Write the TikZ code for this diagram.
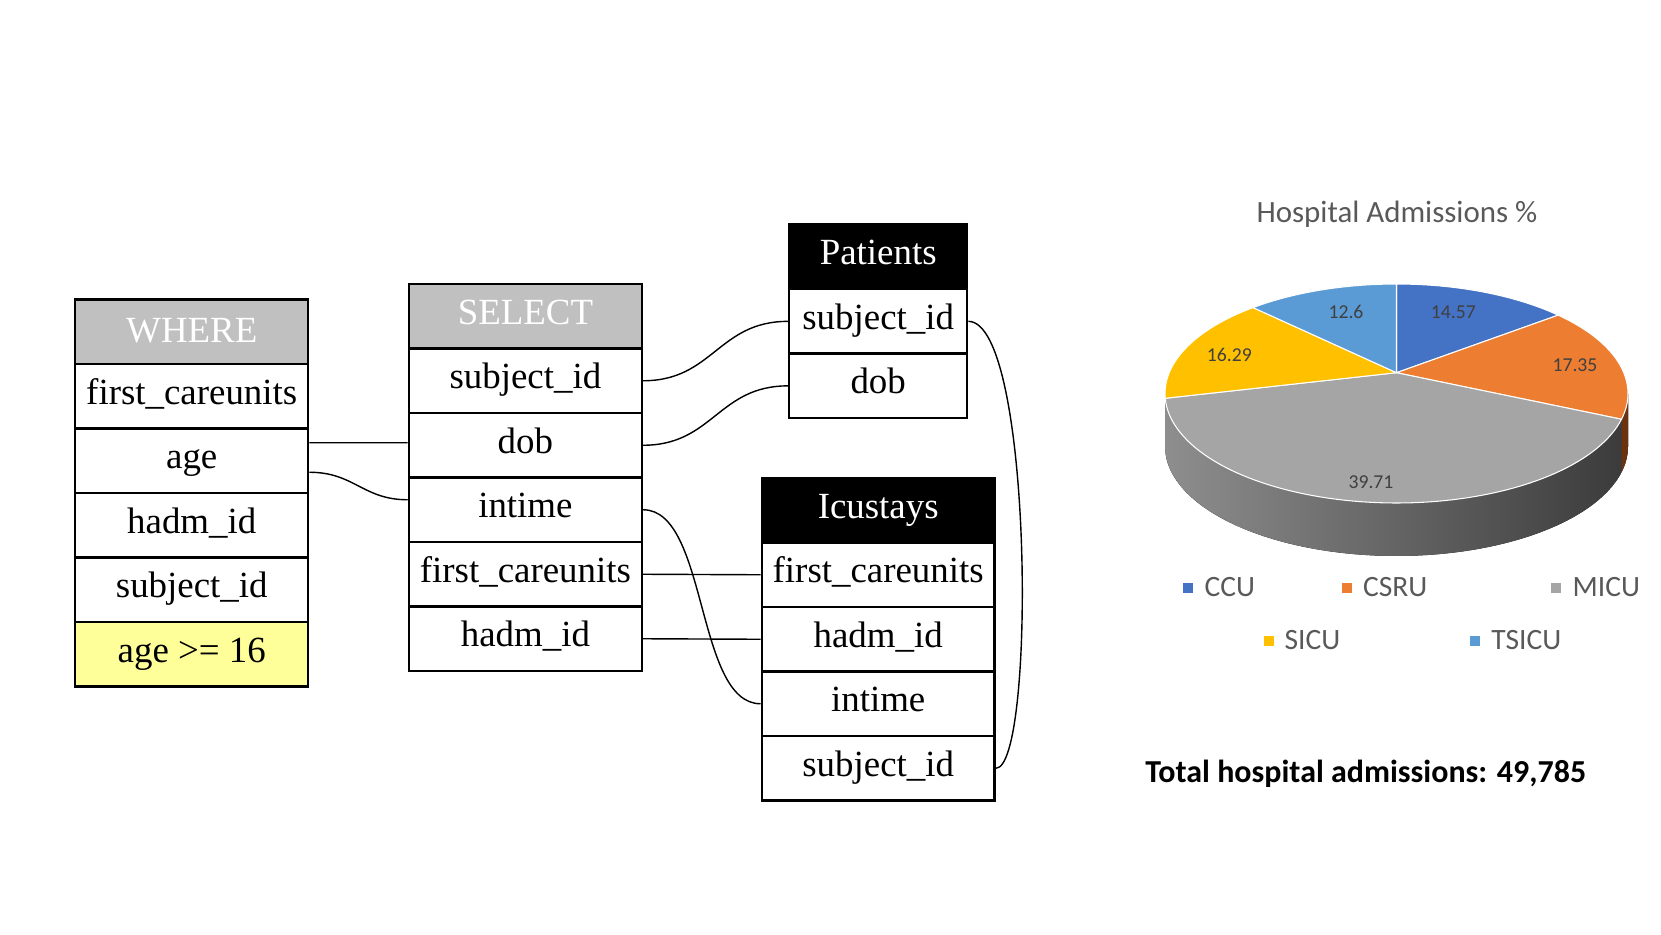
\documentclass[tikz,border=0pt]{standalone}
\usepackage{fontspec}
\setmainfont{Liberation Serif}
\newfontfamily\carl{Carlito}
\usetikzlibrary{calc,backgrounds}
\definecolor{hdrgray}{HTML}{C0C0C0}
\definecolor{condyellow}{HTML}{FFFF99}
\definecolor{ccu}{HTML}{4472C4}
\definecolor{csru}{HTML}{ED7D31}
\definecolor{micu}{HTML}{A5A5A5}
\definecolor{sicu}{HTML}{FFC000}
\definecolor{tsicu}{HTML}{5B9BD5}
\definecolor{sideL}{HTML}{8E8E8E}
\definecolor{sideR}{HTML}{3A3A3A}
\definecolor{csruside}{HTML}{6B3210}
\definecolor{titlegray}{HTML}{595959}
\definecolor{labgray}{HTML}{404040}
\begin{document}
\begin{tikzpicture}[x=0.02cm, y=-0.02cm,
  cell/.style={draw=black, line width=1.35pt, minimum height=1.29cm, inner sep=0pt,
    text height=14pt, text depth=4.8pt,
    font=\fontsize{21}{24}\selectfont},
  wide/.style={minimum width=4.66cm},
  narrow/.style={minimum width=3.56cm},
  ghead/.style={cell, text=white},
  bhead/.style={cell, text=white},
  conn/.style={line width=0.8pt, black},
  pielab/.style={font=\carl\fontsize{11.2}{13}\selectfont, text=labgray, inner sep=0pt},
  legsq/.style={minimum size=0.2cm, inner sep=0pt},
  legtxt/.style={font=\carl\fontsize{16.8}{19}\selectfont, text=titlegray, anchor=base west, inner sep=0pt}
]
\useasboundingbox (0,0) rectangle (1661,934);

% WHERE table
\node[ghead, wide, text depth=1.5pt] (wh) at (191.75,331.75) {WHERE};
\node[cell, wide] (w1) at (191.75,396.25) {first\_careunits};
\node[cell, wide] (w2) at (191.75,460.75) {age};
\node[cell, wide] (w3) at (191.75,525.25) {hadm\_id};
\node[cell, wide] (w4) at (191.75,589.75) {subject\_id};
\node[cell, wide] (w5) at (191.75,654.25) {age >= 16};

% SELECT table
\node[ghead, wide] (sh) at (525.4,316.25) {SELECT};
\node[cell, wide] (s1) at (525.4,380.75) {subject\_id};
\node[cell, wide] (s2) at (525.4,445.25) {dob};
\node[cell, wide] (s3) at (525.4,509.75) {intime};
\node[cell, wide] (s4) at (525.4,574.25) {first\_careunits};
\node[cell, wide] (s5) at (525.4,638.75) {hadm\_id};

% Patients table
\node[bhead, narrow] (ph) at (878.2,256.85) {Patients};
\node[cell, narrow] (p1) at (878.2,321.35) {subject\_id};
\node[cell, narrow] (p2) at (878.2,385.85) {dob};

% Icustays table
\node[bhead, wide] (ih) at (878.2,510.25) {Icustays};
\node[cell, wide] (i1) at (878.2,574.75) {first\_careunits};
\node[cell, wide] (i2) at (878.2,639.25) {hadm\_id};
\node[cell, wide] (i3) at (878.2,703.75) {intime};
\node[cell, wide] (i4) at (878.2,768.25) {subject\_id};

\begin{pgfonlayer}{background}
  \fill[hdrgray] (wh.south west) rectangle (wh.north east);
  \fill[hdrgray] (sh.south west) rectangle (sh.north east);
  \fill[black] (ph.south west) rectangle (ph.north east);
  \fill[black] (ih.south west) rectangle (ih.north east);
  \fill[condyellow] (w5.south west) rectangle (w5.north east);
\end{pgfonlayer}

% connectors
\draw[conn] ([yshift=0.36cm]w2.east) -- ([yshift=0.05cm]s2.west);
\draw[conn] ([yshift=-0.23cm]w2.east) .. controls +(45,0) and +(-45,0) .. ([yshift=0.2cm]s3.west);
\draw[conn] (s1.east) .. controls +(70,0) and +(-70,0) .. (p1.west);
\draw[conn] (s2.east) .. controls +(70,0) and +(-70,0) .. (p2.west);
\draw[conn] (s3.east) .. controls +(65,0) and +(-65,0) .. (i3.west);
\draw[conn] (s4.east) -- (i1.west);
\draw[conn] (s5.east) -- (i2.west);
\draw[conn] (p1.east) .. controls +(65,0) and +(40,0) .. (i4.east);

% pie chart
\node[font=\carl\fontsize{17.6}{20}\selectfont, text=titlegray, anchor=base, inner sep=0pt] (title) at (1397,222.7) {Hospital Admissions \%};

\begin{scope}[shift={(1396.5,393.5)}, yscale=-1]
  \coordinate (apex) at (0,20.8);
  \fill[left color=sideL, right color=sideR]
    plot[domain=180:360, samples=60, variable=\t] ({231.5*cos(\t)},{109.5*sin(\t)})
    -- plot[domain=360:180, samples=60, variable=\t] ({231.5*cos(\t)},{109.5*sin(\t)-53}) -- cycle;
  \fill[csruside]
    plot[domain=-13.6:0, samples=10, variable=\t] ({231.5*cos(\t)},{109.5*sin(\t)})
    -- plot[domain=0:-13.6, samples=10, variable=\t] ({231.5*cos(\t)},{109.5*sin(\t)-53}) -- cycle;
  \filldraw[fill=ccu, draw=white, line width=0.6pt] (apex) -- plot[domain=90:45.7, samples=30, variable=\t] ({231.5*cos(\t)},{109.5*sin(\t)}) -- cycle;
  \filldraw[fill=csru, draw=white, line width=0.6pt] (apex) -- plot[domain=45.7:-13.6, samples=30, variable=\t] ({231.5*cos(\t)},{109.5*sin(\t)}) -- cycle;
  \filldraw[fill=micu, draw=white, line width=0.6pt] (apex) -- plot[domain=-13.6:-177.5, samples=80, variable=\t] ({231.5*cos(\t)},{109.5*sin(\t)}) -- cycle;
  \filldraw[fill=sicu, draw=white, line width=0.6pt] (apex) -- plot[domain=182.5:128.3, samples=30, variable=\t] ({231.5*cos(\t)},{109.5*sin(\t)}) -- cycle;
  \filldraw[fill=tsicu, draw=white, line width=0.6pt] (apex) -- plot[domain=128.3:90, samples=30, variable=\t] ({231.5*cos(\t)},{109.5*sin(\t)}) -- cycle;
\end{scope}

\node[pielab] (l1) at (1453.3,312.3) {14.57};
\node[pielab] (l2) at (1575,365) {17.35};
\node[pielab] (l3) at (1371,481.7) {39.71};
\node[pielab] (l4) at (1229.3,355) {16.29};
\node[pielab] (l5) at (1346,311.7) {12.6};

% legend
\node[legsq, fill=ccu] (q1) at (1188.3,587.7) {};
\node[legtxt] (t1) at (1204.3,596.7) {CCU};
\node[legsq, fill=csru] (q2) at (1346.7,587.7) {};
\node[legtxt] (t2) at (1362.7,596.7) {CSRU};
\node[legsq, fill=micu] (q3) at (1555.7,587.7) {};
\node[legtxt] (t3) at (1572.3,596.7) {MICU};
\node[legsq, fill=sicu] (q4) at (1269,641) {};
\node[legtxt] (t4) at (1284.3,649.3) {SICU};
\node[legsq, fill=tsicu] (q5) at (1475,641) {};
\node[legtxt] (t5) at (1491,649.3) {TSICU};

\node[font=\carl\bfseries\fontsize{18.2}{21}\selectfont, anchor=base west, inner sep=0pt] (total) at (1145,782) {Total hospital admissions: 49,785};
\end{tikzpicture}
\end{document}
